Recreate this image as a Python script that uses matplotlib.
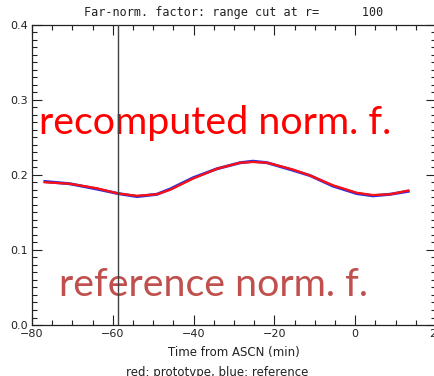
import numpy as np
import matplotlib
matplotlib.use('Agg')
import matplotlib.pyplot as plt
from matplotlib.ticker import MultipleLocator, FormatStrFormatter

# far-norm factor vs time from ascending node
time_min = [-76.8, -70.6, -63.9, -58.7, -54.0, -49.1, -45.8, -40.1, -34.2,
            -28.5, -25.3, -21.8, -15.4, -11.2, -5.5, 0.4, 4.4, 8.6, 13.1]
proto = [0.190, 0.188, 0.182, 0.175, 0.172, 0.174, 0.180, 0.195, 0.208,
         0.216, 0.217, 0.216, 0.207, 0.199, 0.186, 0.176, 0.173, 0.174, 0.179]
refer = [0.191, 0.188, 0.181, 0.175, 0.171, 0.174, 0.181, 0.196, 0.208,
         0.216, 0.218, 0.216, 0.206, 0.199, 0.185, 0.175, 0.172, 0.174, 0.178]
ascn_mark = -58.8
r_cut = 100

fig = plt.figure(figsize=(4.34, 3.76), dpi=100, facecolor='white')
ax = fig.add_axes([0.0737, 0.1356, 0.931, 0.7992])
ax.set_zorder(2)
ax.patch.set_alpha(0)

ax.plot(time_min, refer, color='#3030e0', lw=2.2, zorder=2)
ax.plot(time_min, proto, color='#ff1010', lw=1.6, zorder=3)
ax.axvline(ascn_mark, color='#404040', lw=1.0, zorder=4)

ax.set_xlim(-80, 20)
ax.set_ylim(0.0, 0.4)
ax.xaxis.set_major_locator(MultipleLocator(20))
ax.xaxis.set_minor_locator(MultipleLocator(5))
ax.yaxis.set_major_locator(MultipleLocator(0.1))
ax.yaxis.set_minor_locator(MultipleLocator(0.01))
ax.yaxis.set_major_formatter(FormatStrFormatter('%.1f'))
ax.tick_params(which='both', direction='in', top=True, right=True,
               labelsize=8, colors='#222222', width=0.8)
ax.tick_params(which='major', length=7, pad=3)
ax.tick_params(which='minor', length=3.5)
for s in ax.spines.values():
    s.set_color('#222222')
    s.set_linewidth(0.9)

ax.set_title('Far-norm. factor: range cut at r=      %d' % r_cut,
             fontsize=8.5, color='#222222', pad=6, family='DejaVu Sans Mono')
ax.set_xlabel('Time from ASCN (min)', fontsize=8.5, color='#222222',
              labelpad=5)
fig.text(0.5, 0.008, 'red: prototype, blue: reference', ha='center',
         va='center', fontsize=8.5, color='#222222')

fig.text(0.4965, 0.673, 'recomputed norm. f.', ha='center', va='center',
         fontsize=28.4, color='#ff0000', family='Lato', zorder=1)
fig.text(0.493, 0.242, 'reference norm. f.', ha='center', va='center',
         fontsize=28.4, color='#c0504d', family='Lato', zorder=1)

fig.savefig('out.png', dpi=100, facecolor='white')
